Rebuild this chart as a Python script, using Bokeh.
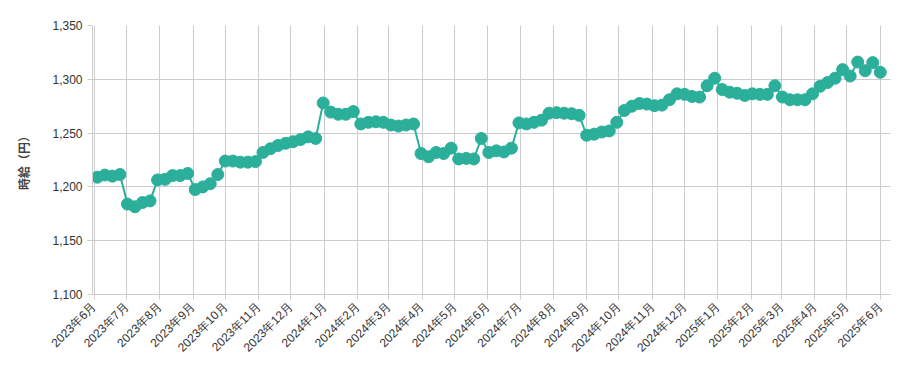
import math
import pandas as pd
from bokeh.plotting import figure
from bokeh.models import FixedTicker, NumeralTickFormatter, Range1d, ColumnDataSource
from bokeh.embed import file_html
from bokeh.resources import INLINE

# Weekly observations (first week 2023-06-04)
start_week = "2023-06-04"
wage = [
    1209, 1211, 1210, 1211.5, 1184, 1181.5, 1185.5, 1187, 1206.5, 1207,
    1210.5, 1210.5, 1212.5, 1197.5, 1200, 1203, 1211.5, 1224, 1224, 1223,
    1223, 1223.5, 1232, 1235.5, 1238.5, 1240.5, 1242, 1244, 1246.5, 1245,
    1278, 1269.5, 1267.5, 1267.5, 1270, 1258.5, 1260, 1260.5, 1260, 1257.5,
    1256.5, 1257.5, 1258.5, 1231, 1228, 1232, 1231, 1236, 1226, 1226.5,
    1226, 1245, 1232, 1233.5, 1232.5, 1236, 1259.5, 1258.5, 1260, 1262,
    1268.5, 1269, 1268.5, 1268, 1266.5, 1248, 1249, 1251, 1252, 1260,
    1271, 1275, 1277.5, 1277, 1275.5, 1276, 1281, 1286.5, 1286, 1284,
    1283.5, 1294, 1301, 1290.5, 1288, 1287, 1285, 1286.5, 1286, 1286,
    1294, 1283.5, 1281, 1281, 1281, 1286.5, 1293.5, 1297, 1301, 1309,
    1303, 1316, 1308, 1315.5, 1306.5,
]
dates = pd.date_range(start_week, periods=len(wage), freq="7D")

month_starts = pd.date_range("2023-06-01", "2025-06-01", freq="MS")
month_labels = [f"{d.year}年{d.month}月" for d in month_starts]
y_ticks = [1100, 1150, 1200, 1250, 1300, 1350]

def ms(ts):
    return pd.Timestamp(ts).value / 1e6

source = ColumnDataSource(dict(x=[ms(d) for d in dates], y=wage))

p = figure(width=901, height=363, output_backend="svg", toolbar_location=None,
           x_axis_type="datetime",
           x_range=Range1d(ms("2023-05-30 12:00"), ms("2025-06-10 12:00")),
           y_range=Range1d(1100, 1350),
           min_border_left=92, min_border_right=11, min_border_top=25, min_border_bottom=69)

color = "#2baf9b"
p.line("x", "y", source=source, line_color=color, line_width=2)
p.scatter("x", "y", source=source, size=12, fill_color=color, line_color=color)

tick_vals = [ms(d) for d in month_starts]
p.xaxis.ticker = FixedTicker(ticks=tick_vals)
p.xaxis.major_label_overrides = {v: l for v, l in zip(tick_vals, month_labels)}
p.xaxis.major_label_orientation = math.pi / 4
p.yaxis.ticker = FixedTicker(ticks=y_ticks)
p.yaxis.formatter = NumeralTickFormatter(format="0,0")
p.yaxis.axis_label = "時給（円）"
p.yaxis.axis_label_text_font = "Noto Sans CJK JP"
p.yaxis.axis_label_text_font_style = "bold"
p.yaxis.axis_label_text_font_size = "12px"
p.yaxis.axis_label_standoff = 17

for ax in (p.xaxis, p.yaxis):
    ax.axis_line_color = "#cccccc"
    ax.major_tick_line_color = "#cccccc"
    ax.minor_tick_line_color = None
    ax.major_tick_out = 5
    ax.major_tick_in = 0
    ax.major_label_text_font = "Liberation Sans"
    ax.major_label_text_font_size = "12px"
    ax.major_label_text_color = "#333333"
    ax.major_label_standoff = 5

p.xgrid.ticker = FixedTicker(ticks=tick_vals)
p.xgrid.grid_line_color = "#cccccc"
p.ygrid.grid_line_color = "#cccccc"
p.outline_line_color = None
p.background_fill_color = "white"
p.border_fill_color = "white"

open("out.html", "w").write(file_html(p, INLINE))
